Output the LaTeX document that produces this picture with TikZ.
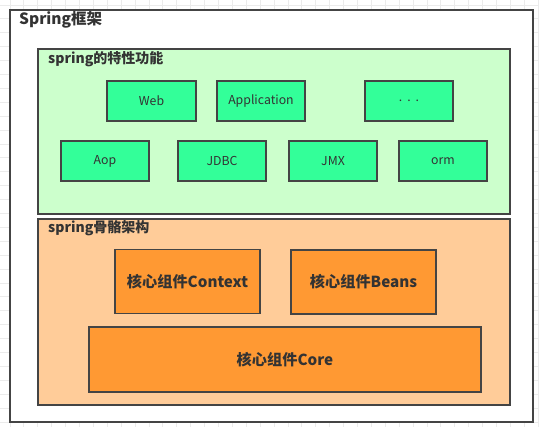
\documentclass[tikz,border=0pt]{standalone}
\usepackage{fontspec}
\setmainfont{Noto Sans CJK SC}
\begin{document}
\begin{tikzpicture}[x=1pt,y=-1pt,
  box/.style={draw=boxline,line width=1.5pt,rectangle,inner sep=0pt},
  feat/.style={box,fill=featfill,font=\fontsize{12.3}{14}\selectfont,text=txt},
  core/.style={box,fill=corefill,font=\fontsize{15.2}{17}\selectfont\bfseries,text=txt},
  ttl/.style={anchor=west,inner sep=0pt,text=txt,font=\fontsize{14}{16}\selectfont\bfseries}]
\definecolor{boxline}{HTML}{444444}
\definecolor{txt}{HTML}{333333}
\definecolor{featfill}{HTML}{33FF99}
\definecolor{greenbg}{HTML}{CCFFCC}
\definecolor{orangebg}{HTML}{FFCC99}
\definecolor{corefill}{HTML}{FF9933}
\definecolor{gridc}{HTML}{EBEBEB}
\useasboundingbox (0,0) rectangle (539,427);
\fill[white] (0,0) rectangle (539,427);
\foreach \i in {0,...,39} {\draw[gridc,line width=0.6pt] ({-4.1+13.9*\i},0) -- ({-4.1+13.9*\i},427);}
\foreach \i in {0,...,31} {\draw[gridc,line width=0.6pt] (0,{4.9+13.9*\i}) -- (539,{4.9+13.9*\i});}
% outer frame
\draw[box,fill=white,line width=1.8pt] (10,10) rectangle (533,422);
\node[ttl,font=\fontsize{15.5}{17}\selectfont\bfseries] (t0) at (19,20) {Spring框架};
% green container
\draw[box,fill=greenbg] (38,49) rectangle (510,214);
\node[ttl] (t1) at (48,59) {spring的特性功能};
\node[feat,minimum width=89pt,minimum height=40pt] (web) at (151.5,101) {Web};
\node[feat,minimum width=88pt,minimum height=40pt] (app) at (261,101) {Application};
\node[feat,minimum width=88pt,minimum height=40pt] (dots) at (409,101) {.\hspace{5pt}.\hspace{5pt}.};
\node[feat,minimum width=88pt,minimum height=40pt] (aop) at (105,161) {Aop};
\node[feat,minimum width=88pt,minimum height=40pt] (jdbc) at (222,161) {JDBC};
\node[feat,minimum width=88pt,minimum height=40pt] (jmx) at (333,161) {JMX};
\node[feat,minimum width=88pt,minimum height=40pt] (orm) at (443,161) {orm};
% orange container
\draw[box,fill=orangebg] (38,219) rectangle (510,405);
\node[ttl] (t2) at (48,228) {spring骨骼架构};
\node[core,minimum width=145pt,minimum height=64pt] (ctx) at (187.5,281.5) {核心组件Context};
\node[core,minimum width=145pt,minimum height=64pt] (beans) at (363.5,282) {核心组件Beans};
\node[core,minimum width=392pt,minimum height=65pt] (corebox) at (285,359.5) {核心组件Core};
\end{tikzpicture}
\end{document}
